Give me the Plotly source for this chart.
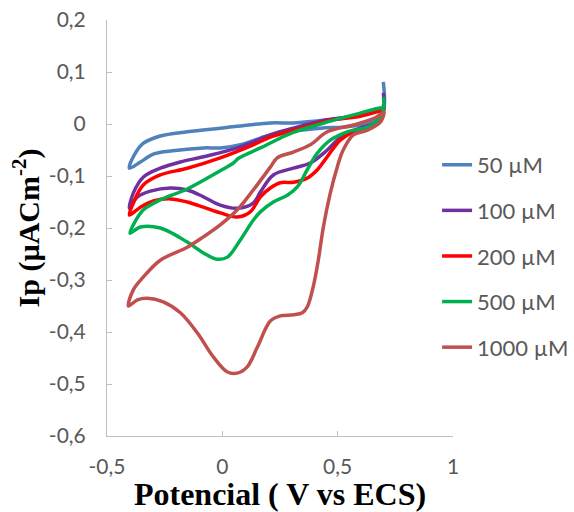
import plotly.graph_objects as go

# Cyclic voltammograms at five concentrations (potential in V vs ECS, current in µA/cm²)
labels = ["50 µM", "100 µM", "200 µM", "500 µM", "1000 µM"]
colors = ["#4F81BD", "#7030A0", "#FF0000", "#00B050", "#C0504D"]

E_50 = [0.698, 0.700, 0.676, 0.642, 0.524, 0.425, 0.208, 0.165, 0.078, -0.009, -0.082,
        -0.225, -0.299, -0.355, -0.403, -0.386, -0.342, -0.269, -0.152, -0.009, 0.208,
        0.308, 0.455, 0.598, 0.685, 0.698]
I_50 = [0.081, 0.030, 0.012, 0.002, -0.006, -0.008, -0.021, -0.027, -0.040, -0.046, -0.046,
        -0.052, -0.058, -0.073, -0.085, -0.063, -0.037, -0.023, -0.015, -0.008, 0.002,
        0.002, 0.008, 0.017, 0.027, 0.030]

E_100 = [0.698, 0.700, 0.672, 0.598, 0.524, 0.455, 0.381, 0.308, 0.221, 0.165, 0.134, 0.065,
         -0.009, -0.082, -0.152, -0.225, -0.312, -0.368, -0.403, -0.386, -0.342, -0.269,
         -0.182, -0.082, 0.065, 0.208, 0.308, 0.455, 0.598, 0.685, 0.698]
I_100 = [0.060, 0.028, 0.004, -0.008, -0.021, -0.050, -0.075, -0.085, -0.098, -0.131, -0.152,
         -0.162, -0.156, -0.140, -0.127, -0.123, -0.129, -0.140, -0.162, -0.133, -0.102, -0.085,
         -0.073, -0.063, -0.046, -0.021, -0.008, 0.008, 0.017, 0.027, 0.028]

E_200 = [0.698, 0.700, 0.685, 0.642, 0.568, 0.511, 0.455, 0.412, 0.368, 0.308, 0.251, 0.208,
         0.165, 0.121, 0.065, -0.009, -0.082, -0.152, -0.225, -0.299, -0.355, -0.403, -0.386,
         -0.342, -0.269, -0.152, -0.009, 0.134, 0.208, 0.308, 0.455, 0.598, 0.685, 0.698]
I_200 = [0.038, 0.026, 0.004, -0.006, -0.015, -0.031, -0.063, -0.088, -0.104, -0.112, -0.113,
         -0.123, -0.140, -0.169, -0.179, -0.171, -0.160, -0.150, -0.144, -0.148, -0.160, -0.175,
         -0.152, -0.117, -0.098, -0.085, -0.065, -0.040, -0.025, -0.012, 0.006, 0.015, 0.025,
         0.026]

E_500 = [0.698, 0.700, 0.676, 0.629, 0.542, 0.468, 0.412, 0.368, 0.325, 0.282, 0.221, 0.165,
         0.134, 0.078, 0.022, -0.022, -0.082, -0.152, -0.269, -0.355, -0.400, -0.386, -0.342,
         -0.269, -0.152, -0.009, 0.048, 0.070, 0.165, 0.251, 0.308, 0.455, 0.598, 0.685, 0.698]
I_500 = [0.052, 0.030, 0.008, -0.006, -0.015, -0.031, -0.056, -0.088, -0.121, -0.137, -0.150,
         -0.169, -0.185, -0.223, -0.256, -0.260, -0.248, -0.227, -0.200, -0.198, -0.210, -0.194,
         -0.165, -0.146, -0.125, -0.090, -0.075, -0.066, -0.046, -0.027, -0.016, 0.004, 0.021,
         0.031, 0.030]

E_1000 = [0.700, 0.685, 0.629, 0.568, 0.524, 0.498, 0.468, 0.438, 0.416, 0.394, 0.368, 0.347,
          0.308, 0.251, 0.208, 0.152, 0.108, 0.065, 0.022, -0.039, -0.108, -0.182, -0.256,
          -0.325, -0.368, -0.407, -0.386, -0.342, -0.269, -0.152, -0.082, -0.009, 0.065, 0.134,
          0.208, 0.238, 0.308, 0.381, 0.455, 0.568, 0.663, 0.700]
I_1000 = [0.022, 0.004, -0.012, -0.021, -0.050, -0.083, -0.133, -0.198, -0.262, -0.313, -0.352,
          -0.363, -0.367, -0.369, -0.379, -0.429, -0.467, -0.479, -0.477, -0.448, -0.402, -0.363,
          -0.342, -0.335, -0.338, -0.350, -0.319, -0.294, -0.262, -0.237, -0.217, -0.194, -0.165,
          -0.127, -0.083, -0.065, -0.054, -0.040, -0.015, -0.002, 0.012, 0.022]

potentials = [E_50, E_100, E_200, E_500, E_1000]
currents = [I_50, I_100, I_200, I_500, I_1000]

x_ticks = [-0.5, 0, 0.5, 1]
x_ticktext = ["-0,5", "0", "0,5", "1"]
y_ticks = [0.2, 0.1, 0, -0.1, -0.2, -0.3, -0.4, -0.5, -0.6]
y_ticktext = ["0,2", "0,1", "0", "-0,1", "-0,2", "-0,3", "-0,4", "-0,5", "-0,6"]

fig = go.Figure()
for i, (lab, col, ex, iy) in enumerate(zip(labels, colors, potentials, currents)):
    fig.add_trace(go.Scatter(
        x=ex, y=iy, mode="lines", name=lab, legendgroup=f"g{i}",
        line=dict(color=col, width=3.5, shape="spline", smoothing=1.0),
    ))

axis_col = "#BFBFBF"
tick_font = dict(family="Lato, Carlito, sans-serif", size=21, color="#595959")
serif = "Liberation Serif, Times New Roman, serif"

fig.update_layout(
    width=574, height=512,
    margin=dict(l=107, r=121, t=20, b=76, autoexpand=False),
    paper_bgcolor="white", plot_bgcolor="white",
    showlegend=True,
    legend=dict(
        x=0.954, y=0.702, xanchor="left", yanchor="top",
        font=dict(family="Lato, Carlito, sans-serif", size=22, color="#595959"),
        traceorder="grouped", tracegroupgap=14,
        bgcolor="rgba(0,0,0,0)",
    ),
    xaxis=dict(
        range=[-0.5, 1], tickmode="array", tickvals=x_ticks, ticktext=x_ticktext,
        showgrid=False, zeroline=False, showline=True, linecolor=axis_col, linewidth=1,
        ticks="inside", ticklen=5, tickcolor=axis_col, tickfont=tick_font,
        ticklabelstandoff=12, automargin=False,
        title=dict(text="<b>Potencial ( V vs ECS)</b>",
                   font=dict(family=serif, size=32, color="#000000"), standoff=0),
    ),
    yaxis=dict(
        range=[-0.6, 0.2], tickmode="array", tickvals=y_ticks, ticktext=y_ticktext,
        showgrid=False, zeroline=False, showline=True, linecolor=axis_col, linewidth=1,
        ticks="inside", ticklen=5, tickcolor=axis_col, tickfont=tick_font,
        ticklabelstandoff=16, automargin=False,
        title=dict(text="<b>Ip (µACm<sup>-2</sup>)</b>",
                   font=dict(family=serif, size=30, color="#000000"), standoff=0),
    ),
)

fig.write_html("out.html")
